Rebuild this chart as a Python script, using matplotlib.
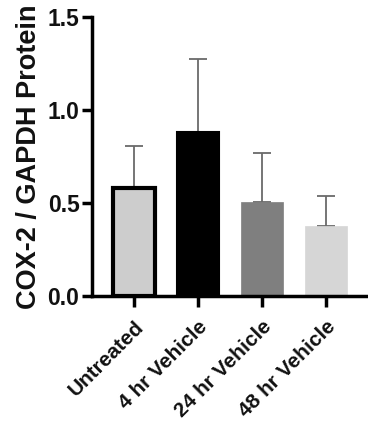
import matplotlib
matplotlib.use("Agg")
import matplotlib.pyplot as plt

categories = ["Untreated", "4 hr Vehicle", "24 hr Vehicle", "48 hr Vehicle"]
means = [0.58, 0.88, 0.505, 0.376]
errors_upper = [0.226, 0.394, 0.264, 0.162]
fills = ["#cdcdcd", "#000000", "#7f7f7f", "#d6d6d6"]
edges = ["#000000", "#000000", "#7f7f7f", "#d6d6d6"]
edge_widths = [3.0, 1.5, 0.5, 0.5]
yticks = [0.0, 0.5, 1.0, 1.5]

plt.rcParams['font.family'] = ['Liberation Sans', 'DejaVu Sans']
fig = plt.figure(figsize=(3.68, 4.23), dpi=100)
ax = fig.add_axes([0.25, 0.30, 0.75, 0.66])

x = list(range(len(categories)))
ax.errorbar(x, means, yerr=[[0]*len(means), errors_upper], fmt='none',
            ecolor='#6a6a6a', elinewidth=1.3, capsize=6.5, capthick=1.3, zorder=1)
ax.bar(x, means, width=0.66, color=fills, edgecolor=edges,
       linewidth=edge_widths, zorder=2)

ax.set_xlim(-0.656, 3.656)
ax.set_ylim(0, 1.5)
ax.set_yticks(yticks)
ax.set_yticklabels([f"{v:.1f}" for v in yticks], fontsize=16.5, fontweight='bold',
                   color='#111111')
ax.set_xticks(x)
ax.set_xticklabels(categories, rotation=45, ha='right', rotation_mode='anchor',
                   fontsize=15, fontweight='bold', color='#111111')
ax.set_ylabel("COX-2 / GAPDH Protein", fontsize=19.5, fontweight='bold',
              labelpad=4, color='#111111')

for s in ['top', 'right']:
    ax.spines[s].set_visible(False)
for s in ['left', 'bottom']:
    ax.spines[s].set_linewidth(2.5)
ax.tick_params(axis='y', width=2.5, length=7, direction='out', pad=2)
ax.tick_params(axis='x', width=2.5, length=8, direction='out', pad=7)

fig.savefig("out.png", dpi=100)
